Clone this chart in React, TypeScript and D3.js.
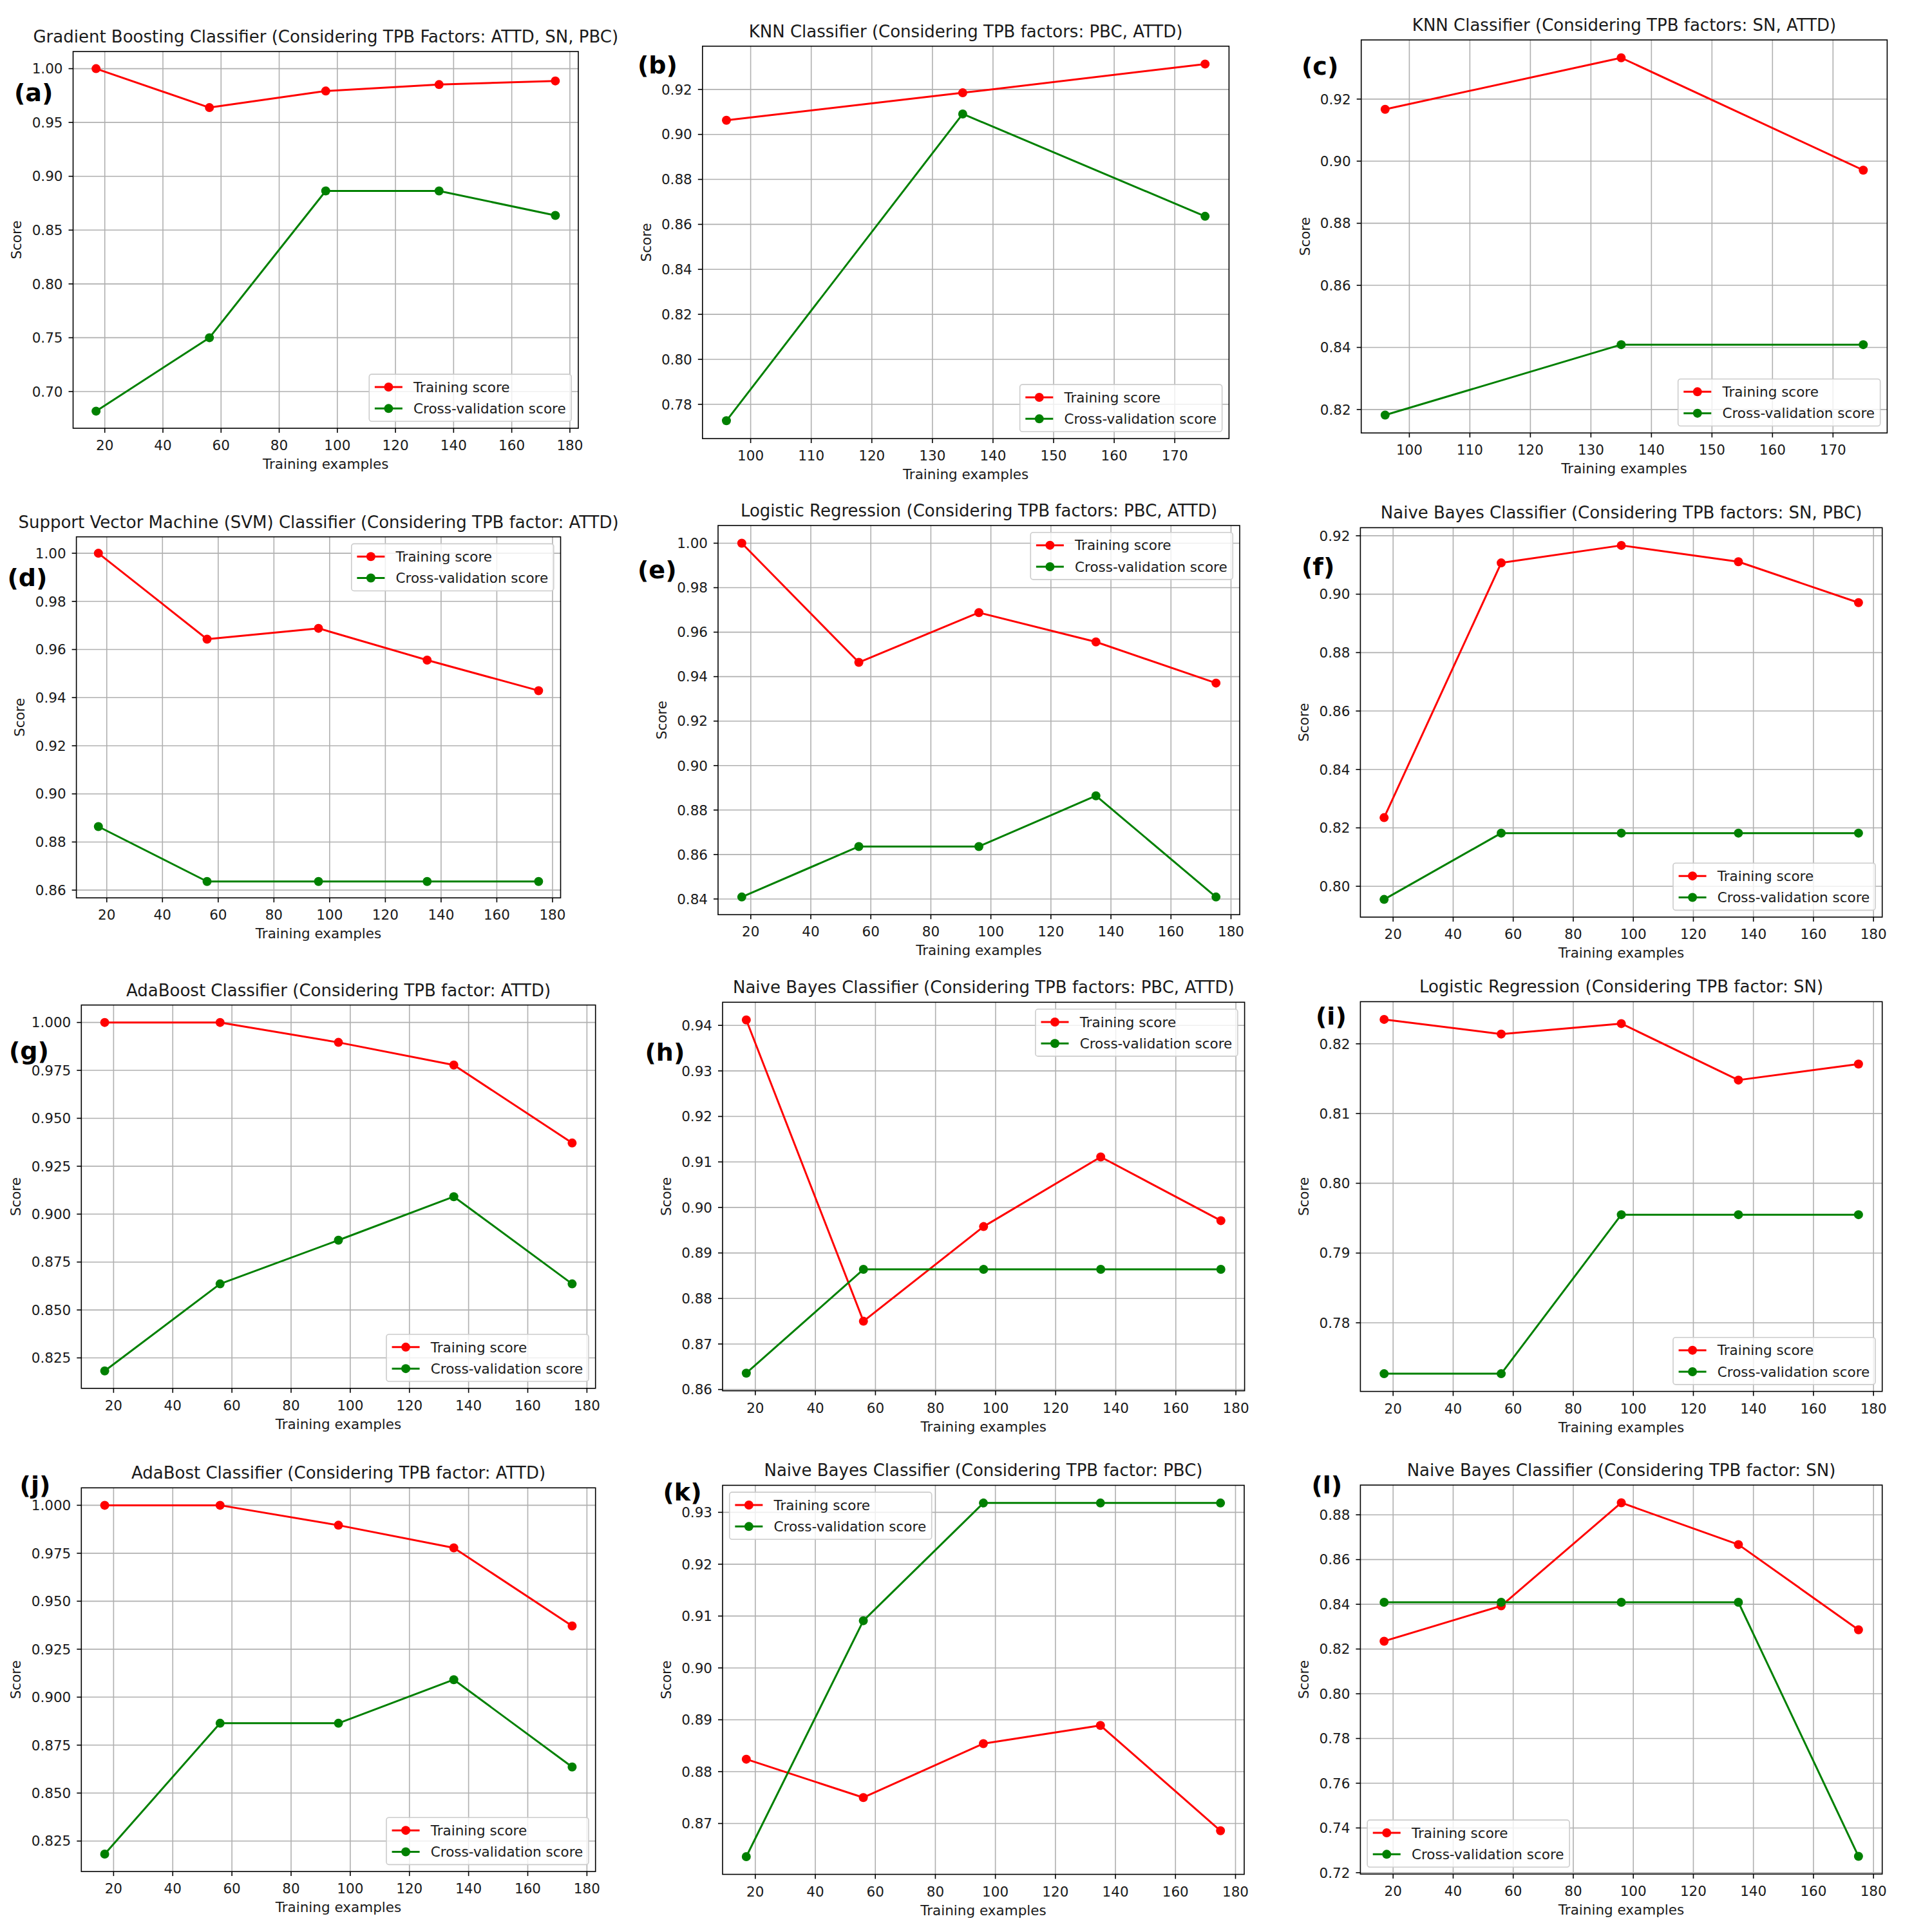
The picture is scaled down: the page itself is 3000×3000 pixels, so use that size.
import React from "react";
import * as d3 from "d3";

const FONT = '"DejaVu Sans", sans-serif';

// ---------- data ----------
const trainSizes = [17, 56, 96, 135, 175];
const trainSizesKnn = [96, 135, 175];
const xTicksFull = [20, 40, 60, 80, 100, 120, 140, 160, 180];
const xTicksKnn = [100, 110, 120, 130, 140, 150, 160, 170];
const seriesNames = ["Training score", "Cross-validation score"];
const xLabel = "Training examples";
const yLabel = "Score";

const titleA = "Gradient Boosting Classifier (Considering TPB Factors: ATTD, SN, PBC)";
const trainA = [1.0, 0.9638, 0.9792, 0.9852, 0.9886];
const cvA = [0.6818, 0.75, 0.8864, 0.8864, 0.8636];
const yTicksA = ["0.70", "0.75", "0.80", "0.85", "0.90", "0.95", "1.00"];

const titleB = "KNN Classifier (Considering TPB factors: PBC, ATTD)";
const trainB = [0.9063, 0.9185, 0.9313];
const cvB = [0.7727, 0.9091, 0.8636];
const yTicksB = ["0.78", "0.80", "0.82", "0.84", "0.86", "0.88", "0.90", "0.92"];

const titleC = "KNN Classifier (Considering TPB factors: SN, ATTD)";
const trainC = [0.9167, 0.9333, 0.8971];
const cvC = [0.8182, 0.8409, 0.8409];
const yTicksC = ["0.82", "0.84", "0.86", "0.88", "0.90", "0.92"];

const titleD = "Support Vector Machine (SVM) Classifier (Considering TPB factor: ATTD)";
const trainD = [1.0, 0.9643, 0.9688, 0.9556, 0.9429];
const cvD = [0.8864, 0.8636, 0.8636, 0.8636, 0.8636];
const yTicksD = ["0.86", "0.88", "0.90", "0.92", "0.94", "0.96", "0.98", "1.00"];

const titleE = "Logistic Regression (Considering TPB factors: PBC, ATTD)";
const trainE = [1.0, 0.9464, 0.9688, 0.9556, 0.9371];
const cvE = [0.8409, 0.8636, 0.8636, 0.8864, 0.8409];
const yTicksE = ["0.84", "0.86", "0.88", "0.90", "0.92", "0.94", "0.96", "0.98", "1.00"];

const titleF = "Naive Bayes Classifier (Considering TPB factors: SN, PBC)";
const trainF = [0.8235, 0.9107, 0.9167, 0.9111, 0.8971];
const cvF = [0.7955, 0.8182, 0.8182, 0.8182, 0.8182];
const yTicksF = ["0.80", "0.82", "0.84", "0.86", "0.88", "0.90", "0.92"];

const titleG = "AdaBoost Classifier (Considering TPB factor: ATTD)";
const trainG = [1.0, 1.0, 0.9896, 0.9778, 0.9371];
const cvG = [0.8182, 0.8636, 0.8864, 0.9091, 0.8636];
const yTicksG = ["0.825", "0.850", "0.875", "0.900", "0.925", "0.950", "0.975", "1.000"];

const titleH = "Naive Bayes Classifier (Considering TPB factors: PBC, ATTD)";
const trainH = [0.9412, 0.875, 0.8958, 0.9111, 0.8971];
const cvH = [0.8636, 0.8864, 0.8864, 0.8864, 0.8864];
const yTicksH = ["0.86", "0.87", "0.88", "0.89", "0.90", "0.91", "0.92", "0.93", "0.94"];

const titleI = "Logistic Regression (Considering TPB factor: SN)";
const trainI = [0.8235, 0.8214, 0.8229, 0.8148, 0.8171];
const cvI = [0.7727, 0.7727, 0.7955, 0.7955, 0.7955];
const yTicksI = ["0.78", "0.79", "0.80", "0.81", "0.82"];

const titleJ = "AdaBost Classifier (Considering TPB factor: ATTD)";
const trainJ = [1.0, 1.0, 0.9896, 0.9778, 0.9371];
const cvJ = [0.8182, 0.8864, 0.8864, 0.9091, 0.8636];
const yTicksJ = ["0.825", "0.850", "0.875", "0.900", "0.925", "0.950", "0.975", "1.000"];

const titleK = "Naive Bayes Classifier (Considering TPB factor: PBC)";
const trainK = [0.8824, 0.875, 0.8854, 0.8889, 0.8686];
const cvK = [0.8636, 0.9091, 0.9318, 0.9318, 0.9318];
const yTicksK = ["0.87", "0.88", "0.89", "0.90", "0.91", "0.92", "0.93"];

const titleL = "Naive Bayes Classifier (Considering TPB factor: SN)";
const trainL = [0.8235, 0.8393, 0.8854, 0.8667, 0.8286];
const cvL = [0.8409, 0.8409, 0.8409, 0.8409, 0.7273];
const yTicksL = ["0.72", "0.74", "0.76", "0.78", "0.80", "0.82", "0.84", "0.86", "0.88"];

const panels = [
  { letter: "(a)", title: titleA, x: trainSizes, train: trainA, cv: cvA, xTicks: xTicksFull, yTicks: yTicksA },
  { letter: "(b)", title: titleB, x: trainSizesKnn, train: trainB, cv: cvB, xTicks: xTicksKnn, yTicks: yTicksB },
  { letter: "(c)", title: titleC, x: trainSizesKnn, train: trainC, cv: cvC, xTicks: xTicksKnn, yTicks: yTicksC },
  { letter: "(d)", title: titleD, x: trainSizes, train: trainD, cv: cvD, xTicks: xTicksFull, yTicks: yTicksD },
  { letter: "(e)", title: titleE, x: trainSizes, train: trainE, cv: cvE, xTicks: xTicksFull, yTicks: yTicksE },
  { letter: "(f)", title: titleF, x: trainSizes, train: trainF, cv: cvF, xTicks: xTicksFull, yTicks: yTicksF },
  { letter: "(g)", title: titleG, x: trainSizes, train: trainG, cv: cvG, xTicks: xTicksFull, yTicks: yTicksG },
  { letter: "(h)", title: titleH, x: trainSizes, train: trainH, cv: cvH, xTicks: xTicksFull, yTicks: yTicksH },
  { letter: "(i)", title: titleI, x: trainSizes, train: trainI, cv: cvI, xTicks: xTicksFull, yTicks: yTicksI },
  { letter: "(j)", title: titleJ, x: trainSizes, train: trainJ, cv: cvJ, xTicks: xTicksFull, yTicks: yTicksJ },
  { letter: "(k)", title: titleK, x: trainSizes, train: trainK, cv: cvK, xTicks: xTicksFull, yTicks: yTicksK },
  { letter: "(l)", title: titleL, x: trainSizes, train: trainL, cv: cvL, xTicks: xTicksFull, yTicks: yTicksL },
];

// ---------- layout (positions only) ----------
const layout = [
  { box: [113.5, 80, 898, 665], lab: [22, 157], legend: "lower right" },
  { box: [1090.8, 71.7, 1908.4, 681], lab: [990, 114], legend: "lower right" },
  { box: [2113.7, 62, 2930.4, 672.3], lab: [2021, 116], legend: "lower right" },
  { box: [118.6, 833.6, 870.5, 1394.2], lab: [11.5, 909.5], legend: "upper right" },
  { box: [1115, 816, 1925, 1420.3], lab: [990, 897.5], legend: "upper right" },
  { box: [2112.4, 819.4, 2922.7, 1424.1], lab: [2021, 893], legend: "lower right" },
  { box: [126.3, 1560.6, 924.7, 2155.8], lab: [14, 1645], legend: "lower right" },
  { box: [1122, 1556.3, 1932.6, 2159.6], lab: [1001.5, 1647], legend: "upper right" },
  { box: [2112.4, 1555.4, 2922.7, 2160.6], lab: [2043, 1591], legend: "lower right" },
  { box: [126.3, 2310.3, 924.7, 2906.1], lab: [30.6, 2319], legend: "lower right" },
  { box: [1122, 2306.4, 1932, 2910.5], lab: [1029.5, 2330], legend: "upper left" },
  { box: [2112.4, 2306, 2922.7, 2910], lab: [2036.4, 2319], legend: "lower left" },
];

const FS = 21.5;
const TITLE_FS = 26;
const LABEL_FS = 38;
const RED = "#ff0000";
const GREEN = "#008000";
const GRID = "#b0b0b0";
const TXT = "#1a1a1a";
const LW = 3;
const MR = 7;

let ctxCache: CanvasRenderingContext2D | null = null;
function textWidth(s: string, fs: number) {
  if (typeof document !== "undefined") {
    if (!ctxCache) ctxCache = document.createElement("canvas").getContext("2d");
    if (ctxCache) {
      ctxCache.font = `${fs}px "DejaVu Sans"`;
      return ctxCache.measureText(s).width;
    }
  }
  return s.length * fs * 0.58;
}

function Panel({ p, lay }: { p: any; lay: any }) {
  const [L, T, R, B] = lay.box;
  const xe = d3.extent(p.x as number[]) as [number, number];
  const xm = (xe[1] - xe[0]) * 0.05;
  const x = d3.scaleLinear().domain([xe[0] - xm, xe[1] + xm]).range([L, R]);
  const ye = d3.extent([...p.train, ...p.cv] as number[]) as [number, number];
  const ym = (ye[1] - ye[0]) * 0.05;
  const y = d3.scaleLinear().domain([ye[0] - ym, ye[1] + ym]).range([B, T]);
  const [d0, d1] = y.domain();
  const eps = (d1 - d0) * 0.002;
  const yTicks = (p.yTicks as string[]).filter((t) => +t >= d0 - eps && +t <= d1 + eps);
  const [x0, x1] = x.domain();
  const xTicks = (p.xTicks as number[]).filter((t) => t >= x0 && t <= x1);

  const line = d3
    .line<number>()
    .x((_, i) => x(p.x[i]))
    .y((d) => y(d));

  const maxTickW = d3.max(yTicks, (t) => textWidth(t, FS)) || 0;
  const yLabelX = L - 16 - maxTickW - 24;

  // legend
  const bp = 0.4 * FS, ls = 0.5 * FS, hl = 2 * FS, htp = 0.8 * FS, rowH = 1.05 * FS, pad = 0.5 * FS;
  const tw = d3.max(seriesNames, (s) => textWidth(s, FS)) || 0;
  const lw = 2 * bp + hl + htp + tw;
  const lh = 2 * bp + 2 * rowH + ls;
  const lx = lay.legend.includes("right") ? R - pad - lw : L + pad;
  const ly = lay.legend.includes("upper") ? T + pad : B - pad - lh;
  const colors = [RED, GREEN];

  return (
    <g>
      {/* grid */}
      {xTicks.map((t) => (
        <line key={"gx" + t} x1={x(t)} x2={x(t)} y1={T} y2={B} stroke={GRID} strokeWidth={1.6} />
      ))}
      {yTicks.map((t) => (
        <line key={"gy" + t} x1={L} x2={R} y1={y(+t)} y2={y(+t)} stroke={GRID} strokeWidth={1.6} />
      ))}
      {/* series */}
      {[p.train, p.cv].map((s: number[], si: number) => (
        <g key={"s" + si}>
          <path d={line(s) || ""} fill="none" stroke={colors[si]} strokeWidth={LW} strokeLinejoin="round" />
          {s.map((v, i) => (
            <circle key={i} cx={x(p.x[i])} cy={y(v)} r={MR} fill={colors[si]} />
          ))}
        </g>
      ))}
      {/* spines */}
      <rect x={L} y={T} width={R - L} height={B - T} fill="none" stroke="#000" strokeWidth={1.6} />
      {/* ticks */}
      {xTicks.map((t) => (
        <g key={"tx" + t}>
          <line x1={x(t)} x2={x(t)} y1={B} y2={B + 7} stroke="#000" strokeWidth={1.6} />
          <text x={x(t)} y={B + 34} textAnchor="middle" fontSize={FS} fontFamily={FONT} fill={TXT}>
            {t}
          </text>
        </g>
      ))}
      {yTicks.map((t) => (
        <g key={"ty" + t}>
          <line x1={L - 7} x2={L} y1={y(+t)} y2={y(+t)} stroke="#000" strokeWidth={1.6} />
          <text x={L - 16} y={y(+t)} dy="0.36em" textAnchor="end" fontSize={FS} fontFamily={FONT} fill={TXT}>
            {t}
          </text>
        </g>
      ))}
      {/* axis labels */}
      <text x={(L + R) / 2} y={B + 63} textAnchor="middle" fontSize={FS} fontFamily={FONT} fill={TXT}>
        {xLabel}
      </text>
      <text
        transform={`translate(${yLabelX},${(T + B) / 2}) rotate(-90)`}
        dy="0.36em"
        textAnchor="middle"
        fontSize={FS}
        fontFamily={FONT}
        fill={TXT}
      >
        {yLabel}
      </text>
      {/* title */}
      <text x={(L + R) / 2} y={T - 14} textAnchor="middle" fontSize={TITLE_FS} fontFamily={FONT} fill={TXT}>
        {p.title}
      </text>
      {/* legend */}
      <g>
        <rect x={lx} y={ly} width={lw} height={lh} rx={4} fill="#fff" fillOpacity={0.8} stroke="#cccccc" strokeWidth={1.6} />
        {seriesNames.map((s, i) => {
          const cy = ly + bp + rowH * (i + 0.5) + i * ls;
          const hx = lx + bp;
          return (
            <g key={s}>
              <line x1={hx} x2={hx + hl} y1={cy} y2={cy} stroke={colors[i]} strokeWidth={LW} />
              <circle cx={hx + hl / 2} cy={cy} r={MR} fill={colors[i]} />
              <text x={hx + hl + htp} y={cy} dy="0.36em" fontSize={FS} fontFamily={FONT} fill={TXT}>
                {s}
              </text>
            </g>
          );
        })}
      </g>
      {/* panel letter */}
      <text x={lay.lab[0]} y={lay.lab[1]} fontSize={LABEL_FS} fontWeight="bold" fontFamily={FONT} fill="#000">
        {p.letter}
      </text>
    </g>
  );
}

export default function App() {
  return (
    <svg
      width={3000}
      height={3000}
      viewBox="0 0 3000 3000"
      style={{ position: "absolute", left: 0, top: 0, background: "#fff" }}
    >
      <rect x={0} y={0} width={3000} height={3000} fill="#fff" />
      {panels.map((p, i) => (
        <Panel key={p.letter} p={p} lay={layout[i]} />
      ))}
    </svg>
  );
}
